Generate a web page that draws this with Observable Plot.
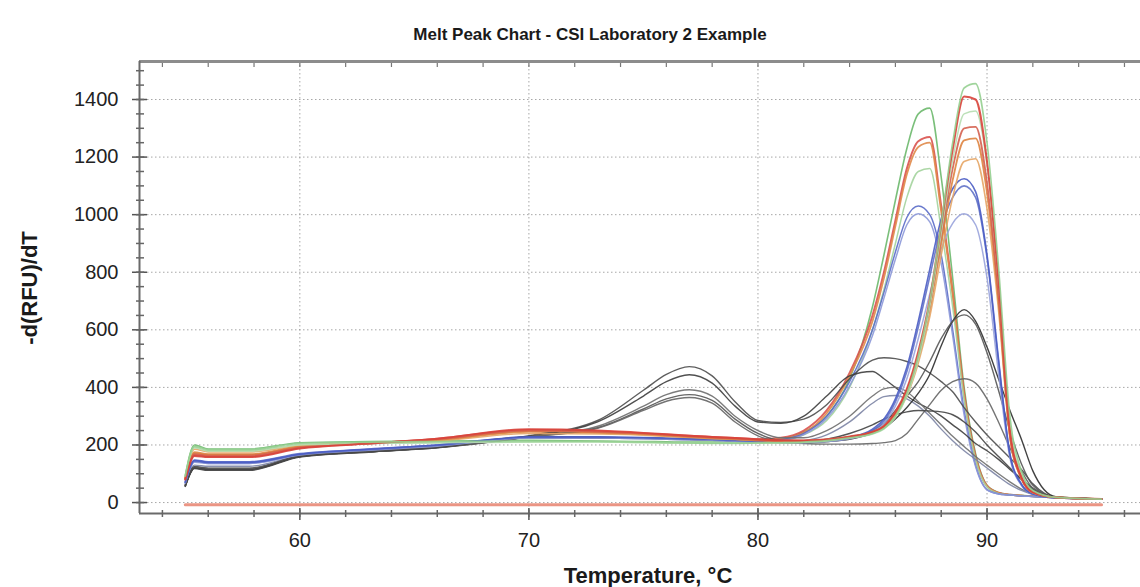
<!DOCTYPE html>
<html><head><meta charset="utf-8">
<script src="https://cdn.jsdelivr.net/npm/d3@7"></script>
<script src="https://cdn.jsdelivr.net/npm/@observablehq/plot@0.6"></script>
<style>
body{margin:0;background:#fff;font-family:"Liberation Sans",Arial,sans-serif;}
#wrap{position:relative;width:1140px;height:587px;overflow:hidden;background:#fff;}
#edge{position:absolute;left:9px;top:12px;bottom:0;width:2px;background:#e2e2e2;}
#title{position:absolute;top:25px;left:0;width:1180px;text-align:center;font-weight:bold;font-size:17px;color:#1a1a1a;}
#xlabel{position:absolute;top:563px;left:0;width:1296px;text-align:center;font-weight:bold;font-size:22px;color:#1a1a1a;}
#ylabel{position:absolute;left:30px;top:288px;transform:translate(-50%,-50%) rotate(-90deg);white-space:nowrap;font-weight:bold;font-size:22px;color:#1a1a1a;}
#chart{position:absolute;left:0;top:0;}
</style></head>
<body>
<div id="wrap">
  <div id="edge"></div>
  <div id="chart"></div>
  <div id="title">Melt Peak Chart - CSI Laboratory 2 Example</div>
  <div id="xlabel">Temperature, °C</div>
  <div id="ylabel">-d(RFU)/dT</div>
</div>
<script>
// Temperature sample points (°C)
const temps = [55, 55.4, 56, 57.8, 60, 63, 66, 70, 73, 75, 76, 77, 78, 79, 80, 81, 82, 83, 84, 85, 85.5, 86, 86.5, 87, 87.5, 88, 88.5, 89, 89.5, 90, 90.5, 91, 91.5, 92, 93, 95];

// Samples with melt peak near 87 °C
const b1Green  = [95, 200, 186, 186, 208, 212, 214, 216, 214, 212, 211, 210, 210, 210, 212, 220, 245, 300, 430, 680, 860, 1050, 1230, 1350, 1370, 1130, 780, 400, 170, 60, 35, 28, 25, 22, 18, 12];
const b2Red    = [80, 165, 160, 160, 190, 205, 222, 252, 248, 240, 236, 232, 228, 224, 220, 225, 250, 320, 450, 650, 800, 980, 1160, 1255, 1270, 1030, 730, 380, 160, 58, 34, 27, 24, 22, 18, 12];
const b3Orange = [85, 175, 168, 168, 196, 206, 216, 246, 242, 236, 232, 228, 224, 220, 216, 220, 242, 310, 440, 630, 780, 960, 1140, 1235, 1250, 1010, 720, 370, 155, 56, 33, 27, 24, 22, 18, 12];
const b4LGreen = [90, 192, 180, 180, 202, 206, 208, 210, 212, 210, 209, 208, 208, 208, 210, 215, 235, 285, 400, 600, 740, 900, 1060, 1150, 1160, 950, 680, 360, 150, 54, 32, 26, 23, 21, 17, 12];
const b5Blue   = [70, 148, 142, 142, 170, 186, 200, 226, 226, 224, 222, 220, 218, 215, 212, 218, 240, 300, 420, 600, 730, 870, 990, 1030, 1000, 860, 600, 320, 130, 45, 30, 26, 23, 21, 17, 12];
const b6LBlue  = [66, 140, 136, 136, 166, 183, 198, 224, 224, 222, 220, 218, 216, 213, 210, 215, 236, 292, 405, 580, 710, 845, 965, 1003, 975, 830, 580, 305, 125, 44, 30, 26, 23, 21, 17, 12];

// Samples with melt peak near 89 °C
const c1LGreen = [92, 196, 184, 184, 206, 210, 212, 214, 212, 210, 208, 207, 206, 206, 207, 208, 210, 215, 225, 240, 258, 300, 380, 510, 700, 970, 1250, 1440, 1455, 1250, 820, 300, 110, 42, 18, 12];
const c2Red    = [80, 162, 158, 158, 188, 205, 222, 255, 250, 242, 237, 232, 228, 224, 220, 216, 215, 218, 228, 245, 265, 315, 395, 525, 705, 965, 1225, 1410, 1400, 1185, 770, 250, 88, 36, 18, 12];
const c3PGreen = [90, 190, 178, 178, 200, 205, 208, 210, 210, 208, 207, 206, 205, 205, 206, 207, 209, 214, 224, 238, 255, 295, 370, 495, 680, 935, 1190, 1350, 1360, 1170, 760, 270, 100, 40, 18, 12];
const c4Red    = [82, 168, 163, 163, 192, 206, 220, 250, 246, 240, 235, 230, 226, 222, 218, 216, 216, 220, 230, 246, 266, 312, 388, 510, 685, 925, 1160, 1300, 1305, 1110, 720, 235, 85, 35, 18, 12];
const c5Orange = [84, 172, 166, 166, 194, 206, 218, 248, 244, 238, 233, 228, 224, 220, 216, 214, 214, 218, 228, 244, 262, 306, 380, 500, 670, 900, 1120, 1258, 1265, 1075, 700, 230, 84, 35, 18, 12];
const c6Tan    = [86, 185, 176, 176, 198, 206, 214, 240, 238, 234, 230, 226, 222, 219, 216, 214, 214, 218, 228, 242, 260, 300, 370, 485, 645, 860, 1060, 1185, 1194, 1020, 670, 225, 82, 34, 18, 12];
const c7Blue   = [72, 146, 140, 140, 168, 185, 200, 228, 228, 226, 224, 222, 220, 217, 214, 212, 212, 216, 226, 255, 290, 360, 470, 630, 810, 985, 1090, 1125, 1080, 860, 500, 170, 65, 30, 17, 12];
const c8Blue   = [70, 144, 138, 138, 167, 184, 198, 226, 226, 224, 222, 220, 218, 215, 212, 210, 210, 214, 224, 250, 283, 350, 455, 610, 785, 955, 1060, 1100, 1060, 850, 490, 165, 62, 30, 17, 12];
const c9LBlue  = [68, 142, 136, 136, 165, 182, 196, 224, 224, 222, 220, 218, 216, 213, 210, 208, 208, 212, 222, 245, 275, 335, 430, 570, 725, 880, 970, 1003, 965, 780, 450, 155, 60, 29, 17, 12];

// Grey / black samples (secondary peaks)
const g1Grey   = [58, 122, 116, 116, 160, 176, 192, 232, 285, 390, 445, 472, 440, 350, 285, 278, 290, 340, 430, 495, 503, 500, 490, 475, 450, 420, 385, 330, 280, 235, 195, 155, 115, 65, 18, 12];
const g2Grey   = [56, 118, 112, 112, 158, 175, 190, 230, 280, 370, 420, 444, 415, 335, 280, 275, 300, 370, 440, 455, 430, 400, 370, 345, 325, 300, 270, 240, 205, 180, 150, 115, 82, 50, 18, 12];
const g3Grey   = [60, 125, 120, 120, 162, 177, 192, 228, 265, 335, 375, 392, 370, 300, 250, 225, 225, 250, 300, 370, 395, 400, 385, 350, 310, 270, 230, 195, 160, 130, 100, 72, 47, 30, 17, 12];
const g4Slate  = [62, 130, 126, 126, 164, 180, 196, 224, 224, 222, 220, 218, 216, 214, 212, 210, 215, 235, 280, 345, 368, 372, 360, 335, 300, 255, 215, 180, 150, 120, 90, 62, 42, 28, 17, 12];
const d1Black  = [60, 124, 118, 118, 162, 178, 194, 228, 226, 224, 222, 220, 218, 215, 212, 208, 208, 212, 220, 240, 258, 290, 330, 380, 445, 545, 630, 670, 630, 540, 430, 320, 220, 110, 20, 12];
const d2Grey   = [57, 120, 114, 114, 160, 176, 191, 228, 260, 325, 360, 375, 355, 290, 240, 215, 210, 212, 222, 250, 275, 320, 370, 420, 490, 570, 630, 652, 620, 520, 390, 250, 135, 60, 18, 12];
const d3Grey   = [59, 123, 118, 118, 161, 177, 192, 228, 258, 320, 352, 365, 345, 280, 232, 210, 205, 203, 203, 205, 208, 215, 240, 290, 340, 390, 420, 430, 415, 360, 280, 190, 110, 50, 18, 12];
const d4Grey   = [58, 120, 115, 115, 160, 176, 191, 227, 226, 224, 222, 220, 218, 215, 212, 210, 212, 220, 240, 270, 290, 305, 315, 320, 318, 315, 305, 280, 245, 200, 160, 120, 80, 45, 18, 12];

// No-template control (flat line just below zero)
const ntcTemps  = [55, 95];
const ntcValues = [-8, -8];

// Axis ticks
const xMajor = [60, 70, 80, 90];
const xMinor = [54, 56, 58, 60, 62, 64, 66, 68, 70, 72, 74, 76, 78, 80, 82, 84, 86, 88, 90, 92, 94, 96];
const yMajor = [0, 200, 400, 600, 800, 1000, 1200, 1400];
const yMinor = [0, 50, 100, 150, 200, 250, 300, 350, 400, 450, 500, 550, 600, 650, 700, 750, 800, 850, 900, 950, 1000, 1050, 1100, 1150, 1200, 1250, 1300, 1350, 1400, 1450, 1500];
const xDomain = [53, 96.7];
const yDomain = [-38, 1532];

const styles = [
  [b1Green, "#6cb86c", 1.6], [b2Red, "#d9534f", 2], [b3Orange, "#e08a4a", 1.8],
  [b4LGreen, "#a3d39c", 1.5], [b5Blue, "#5a6cc8", 1.5], [b6LBlue, "#8c98d8", 1.5],
  [g1Grey, "#4d4d4d", 1.4], [g2Grey, "#3d3d3d", 1.4], [g3Grey, "#6e6e6e", 1.4], [g4Slate, "#7c84a4", 1.4],
  [d1Black, "#2e2e2e", 1.4], [d2Grey, "#555555", 1.4], [d3Grey, "#656565", 1.4], [d4Grey, "#444444", 1.4],
  [c9LBlue, "#99a3dc", 1.5], [c8Blue, "#6272c8", 1.6], [c7Blue, "#4a5cc4", 1.6],
  [c6Tan, "#e6a565", 1.6], [c5Orange, "#de8440", 1.8], [c4Red, "#d4604f", 1.8],
  [c3PGreen, "#b5ddb0", 1.4], [c2Red, "#d8433a", 2], [c1LGreen, "#95cf90", 1.6]
];

const lineMarks = styles.map(([vals, color, w]) =>
  Plot.line(temps.map((t, i) => ({t, v: vals[i]})), {x: "t", y: "v", stroke: color, strokeWidth: w, strokeOpacity: 0.9, curve: "monotone-x"})
);

const fmt = d => String(d);

const chart = Plot.plot({
  width: 1140, height: 587,
  marginLeft: 139, marginRight: 0, marginTop: 61, marginBottom: 74,
  style: {fontFamily: "'Liberation Sans', Arial, sans-serif", fontSize: "20px", color: "#222", background: "#fff"},
  x: {domain: xDomain},
  y: {domain: yDomain},
  marks: [
    Plot.gridX(xMajor, {stroke: "#8a8a8a", strokeOpacity: 0.75, strokeDasharray: "1.5,2.5"}),
    Plot.gridY(yMajor, {stroke: "#8a8a8a", strokeOpacity: 0.75, strokeDasharray: "1.5,2.5"}),
    Plot.line(ntcTemps.map((t, i) => ({t, v: ntcValues[i]})), {x: "t", y: "v", stroke: "#e8836f", strokeWidth: 3, strokeOpacity: 0.85}),
    ...lineMarks,
    Plot.ruleY([yDomain[1]], {stroke: "#8c8c8c", strokeWidth: 3}),
    Plot.ruleY([yDomain[0]], {stroke: "#6a6a6a", strokeWidth: 2}),
    Plot.ruleX([xDomain[0]], {stroke: "#6a6a6a", strokeWidth: 2}),
    // y axis: labels + crossing ticks
    Plot.axisY(yMajor, {anchor: "left", tickSize: 7, tickPadding: 14, tickFormat: fmt, stroke: "#555", strokeWidth: 1.5, fontSize: 20, fill: "#222", label: null}),
    Plot.axisY(yMajor, {anchor: "left", tickSize: 8, dx: 8, stroke: "#555", strokeWidth: 1.5, tickFormat: () => "", label: null}),
    Plot.axisY(yMinor, {anchor: "left", tickSize: 3, stroke: "#666", strokeWidth: 1.5, tickFormat: () => "", label: null}),
    Plot.axisY(yMinor, {anchor: "left", tickSize: 5, dx: 5, stroke: "#666", strokeWidth: 1.5, tickFormat: () => "", label: null}),
    // x axis
    Plot.axisX(xMajor, {anchor: "bottom", tickSize: 7, tickPadding: 12, tickFormat: fmt, stroke: "#555", strokeWidth: 1.5, fontSize: 20, fill: "#222", label: null}),
    Plot.axisX(xMajor, {anchor: "bottom", tickSize: 5, dy: -5, stroke: "#555", strokeWidth: 1.5, tickFormat: () => "", label: null}),
    Plot.axisX(xMinor, {anchor: "bottom", tickSize: 4, stroke: "#666", strokeWidth: 1.5, tickFormat: () => "", label: null}),
    Plot.axisX(xMinor, {anchor: "bottom", tickSize: 3, dy: -3, stroke: "#666", strokeWidth: 1.5, tickFormat: () => "", label: null}),
    Plot.axisX(xMinor, {anchor: "top", tickSize: 4, dy: 5, stroke: "#777", strokeWidth: 1.2, tickFormat: () => "", label: null})
  ]
});
document.getElementById("chart").appendChild(chart);
</script>
</body></html>
